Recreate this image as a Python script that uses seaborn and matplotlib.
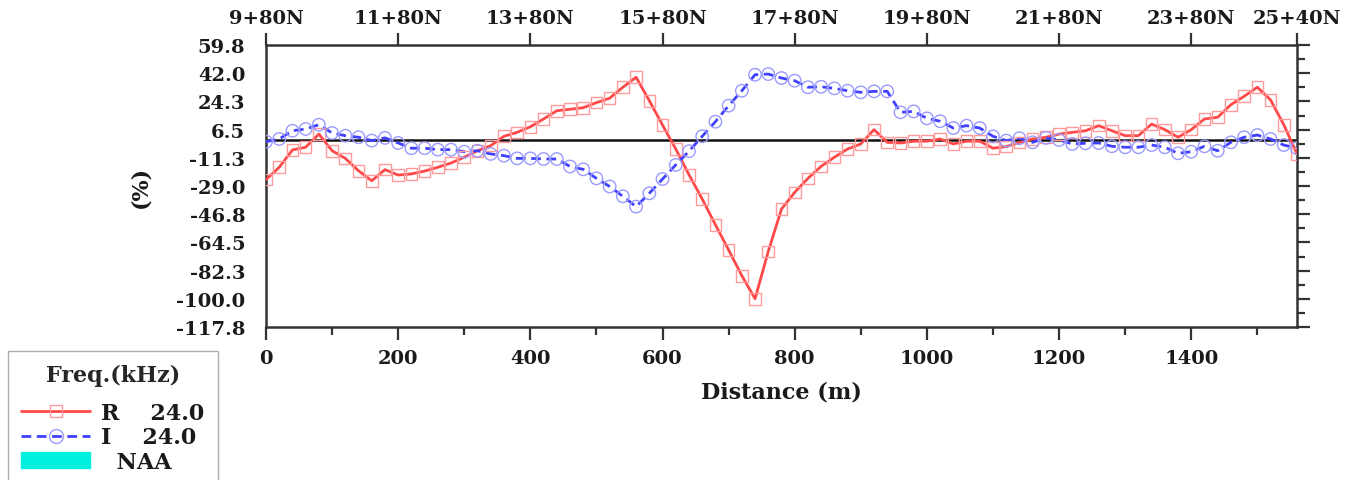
import numpy as np
import pandas as pd
import matplotlib
matplotlib.use("Agg")
import matplotlib.pyplot as plt
import seaborn as sns
from matplotlib.lines import Line2D
from matplotlib.patches import Patch

# ---------------- data ----------------
distance = list(range(0, 1561, 20))
real_24 = [-25.0, -17.2, -6.3, -4.6, 3.7, -6.8, -11.6, -19.4, -25.7, -18.7,
           -22.1, -21.4, -19.6, -17.2, -14.5, -10.9, -6.8, -3.6, 2.3, 4.8,
           8.3, 13.2, 18.4, 19.3, 20.3, 23.5, 26.3, 33.2, 39.5, 24.7,
           9.4, -5.7, -21.9, -37.2, -53.4, -69.3, -85.5, -100.0, -70.2, -43.5,
           -33.0, -24.2, -16.6, -10.9, -5.7, -2.5, 6.5, -1.5, -1.9, -0.8,
           -0.8, 0.6, -2.5, -0.8, -0.8, -5.2, -4.2, -1.5, 0.6, 1.7,
           3.7, 4.8, 5.8, 9.0, 5.8, 2.7, 2.7, 10.0, 6.5, 1.7,
           6.5, 13.2, 14.3, 22.2, 27.5, 33.2, 25.2, 9.6, -8.8]
imag_24 = [-1.1, 0.6, 5.8, 6.9, 9.6, 4.4, 2.7, 1.7, -0.4, 1.3,
           -1.9, -5.2, -5.2, -6.1, -6.1, -7.4, -6.8, -8.8, -9.9, -11.6,
           -11.6, -12.0, -12.0, -16.7, -18.5, -24.2, -29.3, -35.5, -42.0, -33.6,
           -24.6, -15.7, -7.1, 2.3, 11.5, 21.6, 31.0, 41.1, 41.5, 39.0,
           37.3, 33.2, 33.5, 32.5, 31.0, 30.0, 30.6, 30.6, 17.4, 18.0,
           13.6, 11.8, 7.5, 9.0, 7.5, 2.3, -0.4, 1.1, -1.5, 1.3,
           0.0, -2.5, -2.1, -1.9, -4.0, -4.6, -4.6, -3.2, -4.6, -8.4,
           -7.4, -4.0, -6.8, -1.5, 1.7, 3.1, 0.6, -3.2, -5.2]

ytick_labels = ["-117.8", "-100.0", "-82.3", "-64.5", "-46.8", "-29.0",
                "-11.3", "6.5", "24.3", "42.0", "59.8"]
xtick_values = [0, 200, 400, 600, 800, 1000, 1200, 1400]
top_tick_values = [0, 200, 400, 600, 800, 1000, 1200, 1400, 1560]
top_tick_labels = ["9+80N", "11+80N", "13+80N", "15+80N", "17+80N",
                   "19+80N", "21+80N", "23+80N", "25+40N"]
legend_title = "Freq.(kHz)"
legend_labels = ["R    24.0", "I    24.0", "  NAA"]

df = pd.DataFrame({"distance": distance, "R": real_24, "I": imag_24})

# ---------------- style ----------------
sns.set_style("white")
plt.rcParams["font.family"] = ["DejaVu Serif"]
plt.rcParams["axes.unicode_minus"] = False

W, H = 1361, 481
fig = plt.figure(figsize=(W / 100, H / 100), dpi=100)
L, R, T, B = 266, 1297, 46, 328
ax = fig.add_axes([L / W, 1 - B / H, (R - L) / W, (B - T) / H])

RED = "#ff4848"
RED_M = "#ff9a9a"
BLUE = "#4040ff"
BLUE_M = "#9a9aff"
TXT = "#1a1a1a"

ax.axhline(0, color="#111111", lw=1.8, zorder=1)

sns.lineplot(data=df, x="distance", y="R", ax=ax, color=RED, lw=2.0,
             zorder=3, estimator=None)
sns.scatterplot(data=df, x="distance", y="R", ax=ax, marker="s", s=70,
                facecolor="none", edgecolor=RED_M, linewidth=1.0, zorder=4)
sns.lineplot(data=df, x="distance", y="I", ax=ax, color=BLUE, lw=2.0,
             zorder=3, estimator=None, dashes=False, linestyle=(0, (3.5, 2)))
sns.scatterplot(data=df, x="distance", y="I", ax=ax, marker="o", s=80,
                facecolor="none", edgecolor=BLUE_M, linewidth=1.0, zorder=4)

ylo, yhi = -117.8, 59.8
ax.set_xlim(0, 1560)
ax.set_ylim(ylo, yhi)
yt = np.linspace(ylo, yhi, len(ytick_labels))
ax.set_yticks(yt)
ax.set_yticklabels(ytick_labels, fontweight="bold")
ax.set_yticks((yt[:-1] + yt[1:]) / 2, minor=True)
ax.set_xticks(xtick_values)
ax.set_xticklabels([str(v) for v in xtick_values], fontweight="bold")
ax.set_xticks([100, 300, 500, 700, 900, 1100, 1300, 1500], minor=True)

for s in ax.spines.values():
    s.set_color("#333333")
    s.set_linewidth(1.8)

ax.tick_params(axis="both", which="major", direction="out", length=9,
               width=1.6, color="#333333", labelsize=14, labelcolor=TXT)
ax.tick_params(axis="y", which="major", pad=6)
ax.tick_params(axis="x", which="major", pad=7)
ax.tick_params(axis="both", which="minor", direction="out", length=6,
               width=1.6, color="#333333")
ax.tick_params(axis="y", which="both", right=True)
ax.tick_params(axis="x", which="both", bottom=True, top=False)

ax.set_xlabel("Distance (m)", fontsize=16, fontweight="bold", va="center",
              color=TXT)
ax.xaxis.set_label_coords(0.5, (B - 392) / (B - T))
ax.set_ylabel("(%)", fontsize=16, fontweight="bold", va="center", color=TXT)
ax.yaxis.set_label_coords((140 - L) / (R - L), 0.5)

# top axis with station labels
top = ax.twiny()
top.set_xlim(ax.get_xlim())
top.set_xticks(top_tick_values)
top.set_xticklabels(top_tick_labels, fontweight="bold")
top.tick_params(axis="x", which="major", direction="out", length=9,
                width=1.6, color="#333333", labelsize=14, pad=4,
                labelcolor=TXT)
for s in top.spines.values():
    s.set_visible(False)

# legend
handles = [
    Line2D([0], [0], color=RED, lw=2.0, marker="s", markersize=9,
           markerfacecolor="none", markeredgecolor=RED_M),
    Line2D([0], [0], color=BLUE, lw=2.0, linestyle=(0, (3.5, 2)), marker="o",
           markersize=10, markerfacecolor="none", markeredgecolor=BLUE_M),
    Patch(facecolor="#00f0e0", edgecolor="#00f0e0"),
]
leg = fig.legend(handles, legend_labels, loc="upper left",
                 bbox_to_anchor=(8 / W, 1 - 352 / H),
                 bbox_transform=fig.transFigure, borderaxespad=0,
                 title=legend_title, numpoints=1,
                 prop={"size": 16, "weight": "bold"},
                 handlelength=3.1, handletextpad=0.5, labelspacing=0.12,
                 frameon=True, fancybox=False, borderpad=0.6)
leg._legend_box.sep = 11
leg.get_title().set_fontweight("bold")
leg.get_title().set_fontsize(16)
leg.get_frame().set_edgecolor("#999999")
leg.get_frame().set_linewidth(1.0)
for t in leg.get_texts():
    t.set_color(TXT)

fig.savefig("out.png", dpi=100)
